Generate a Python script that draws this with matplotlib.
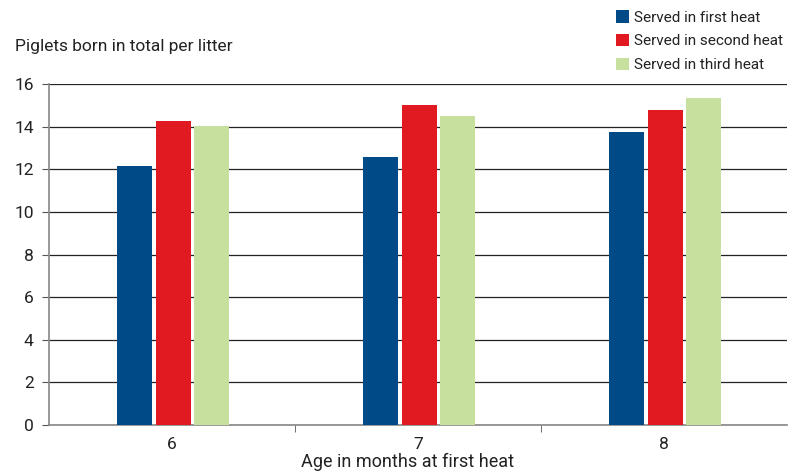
import numpy as np
import matplotlib.pyplot as plt

plt.rcParams['font.family'] = ['Roboto', 'DejaVu Sans']

ages = ['6', '7', '8']
series = ['Served in first heat', 'Served in second heat', 'Served in third heat']
first_heat = [12.15, 12.6, 13.75]
second_heat = [14.25, 15.0, 14.8]
third_heat = [14.05, 14.5, 15.35]
colors = ['#004A87', '#E11A22', '#C8E09E']

fig = plt.figure(figsize=(7.94, 4.73), dpi=100)
ax = fig.add_axes([0.0617, 0.1015, 0.9293, 0.7205])

x = np.arange(len(ages))
w = 0.142
step = 0.157
for i, (vals, lab) in enumerate(zip([first_heat, second_heat, third_heat], series)):
    ax.bar(x + (i - 1) * step + 0.005, vals, w, color=colors[i], label=lab, zorder=3)

ax.set_xlim(-0.5, 2.5)
ax.set_ylim(0, 16)
ax.set_yticks(range(0, 17, 2))
ax.set_xticks(x)
ax.set_xticklabels(ages)
ax.set_xticks([0.5, 1.5], minor=True)
ax.tick_params(axis='x', which='major', length=0, pad=9, labelsize=12.5, colors='#222222')
ax.tick_params(axis='x', which='minor', length=5, color='#555555', direction='out')
ax.tick_params(axis='y', length=5, color='#555555', labelsize=12.5, labelcolor='#222222', pad=6)
ax.grid(axis='y', color='#222222', linewidth=0.9, zorder=0)
for s in ['top', 'right']:
    ax.spines[s].set_visible(False)
for s in ['left', 'bottom']:
    ax.spines[s].set_color('#888888')
    ax.spines[s].set_linewidth(1.2)

fig.text(408 / 794, 0.012, 'Age in months at first heat', fontsize=13, color='#222222', ha='center')
fig.text(0.019, 0.893, 'Piglets born in total per litter', fontsize=12.5, color='#222222')

fig.legend(loc='upper left', bbox_to_anchor=(616 / 794, 0.978), frameon=False, fontsize=11,
           handlelength=0.85, handleheight=0.85, handletextpad=0.3, labelspacing=0.6,
           borderaxespad=0, borderpad=0, labelcolor='#222222')

fig.savefig('out.png', dpi=100)
